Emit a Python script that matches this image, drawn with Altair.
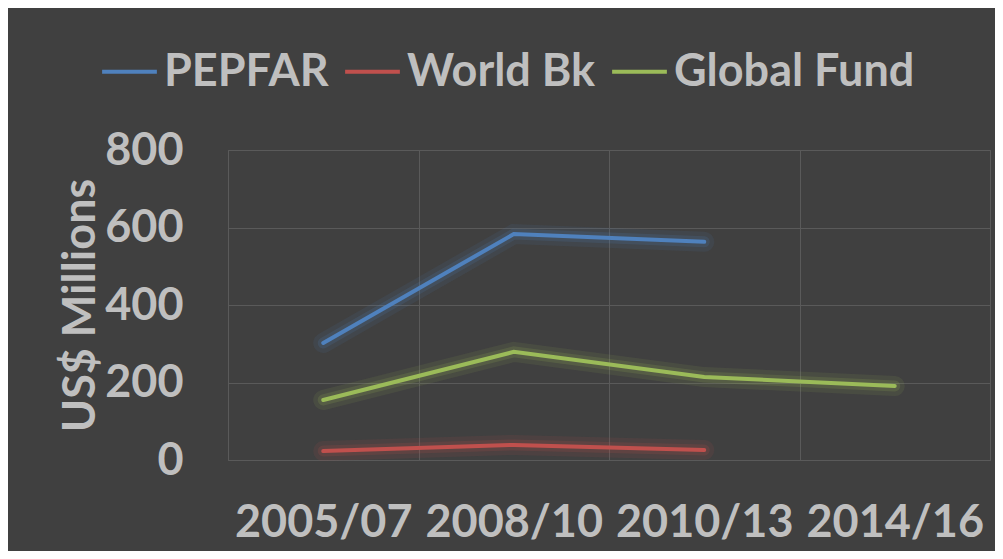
import altair as alt
import pandas as pd

periods = ["2005/07", "2008/10", "2010/13", "2014/16"]
series = ["PEPFAR", "World Bk", "Global Fund"]
colors = ["#4F81BD", "#C0504D", "#9BBB59"]
pepfar = [302, 583, 563, None]
world_bk = [23, 39, 26, None]
global_fund = [155, 279, 214, 191]

rows = []
for name, vals in zip(series, [pepfar, world_bk, global_fund]):
    for p, v in zip(periods, vals):
        if v is not None:
            rows.append({"period": p, "series": name, "glow": name, "value": v})
df = pd.DataFrame(rows)

FONT = "Lato"
FS = 45
TXT = "#BFBFBF"
GRID = "#5A5A5A"

x_enc = alt.X("period:N", sort=periods,
              scale=alt.Scale(domain=periods, paddingInner=0, paddingOuter=0),
              axis=alt.Axis(title=None, labelAngle=0, labelFontSize=FS, labelFont=FONT,
                            labelFontWeight="bold", labelColor=TXT, labelPadding=40,
                            ticks=False, domain=False, grid=True, gridColor=GRID,
                            tickBand="extent"))
y_enc = alt.Y("value:Q", scale=alt.Scale(domain=[0, 800]),
              axis=alt.Axis(values=[0, 200, 400, 600, 800], title="US$ Millions",
                            titleFontSize=FS, titleFont=FONT, titleFontWeight="bold",
                            titleColor=TXT, titleX=-148, titleY=155, titleBaseline="middle",
                            labelFontSize=FS, labelFont=FONT, labelFontWeight="bold",
                            labelColor=TXT, labelPadding=45, ticks=False, domain=False,
                            grid=True, gridColor=GRID))
color_enc = alt.Color("series:N", sort=series,
                      scale=alt.Scale(domain=series, range=colors),
                      legend=alt.Legend(title=None, orient="none", direction="horizontal",
                                        legendX=-128, legendY=-108,
                                        symbolType="stroke", symbolSize=3000,
                                        symbolStrokeWidth=4, labelFontSize=FS,
                                        labelFont=FONT, labelFontWeight="bold",
                                        labelColor=TXT, labelOffset=5, columnPadding=8,
                                        symbolOffset=0, labelLimit=400))
glow_enc = alt.Color("glow:N", sort=series,
                     scale=alt.Scale(domain=series, range=colors), legend=None)

base = alt.Chart(df).encode(x=x_enc, y=y_enc)
glow1 = base.mark_line(strokeWidth=20, opacity=0.1, strokeCap="round").encode(color=glow_enc)
glow2 = base.mark_line(strokeWidth=11, opacity=0.16, strokeCap="round").encode(color=glow_enc)
main = base.mark_line(strokeWidth=4, strokeCap="round").encode(color=color_enc)

chart = alt.layer(glow1, glow2, main).resolve_scale(color="independent").properties(
    width=762, height=310,
    autosize=alt.AutoSizeParams(type="none"),
    padding={"left": 220, "top": 142, "right": 5, "bottom": 91},
    background="#404040",
).configure_view(stroke=GRID, strokeWidth=1)

chart.save("out.html", embed_options={"renderer": "svg", "actions": False})
